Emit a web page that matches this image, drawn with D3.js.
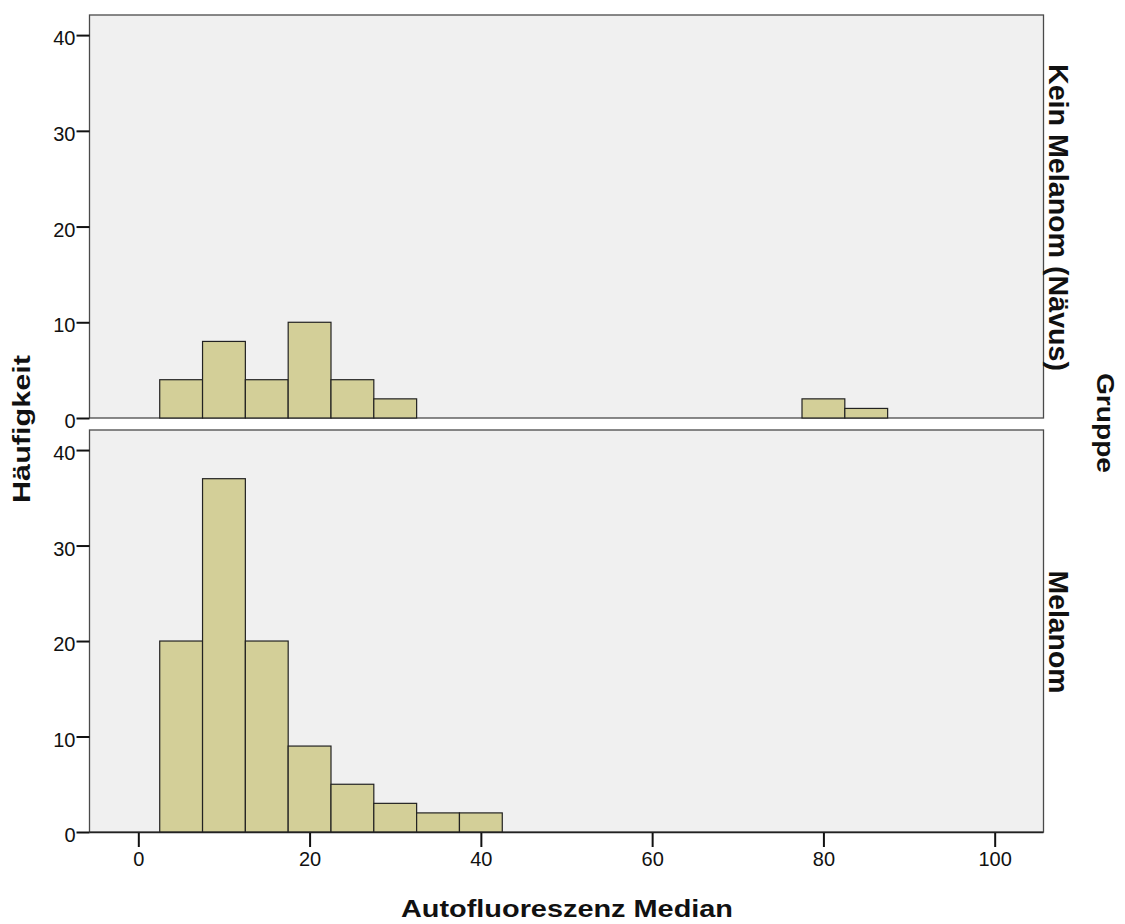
<!DOCTYPE html>
<html>
<head>
<meta charset="utf-8">
<script src="https://cdn.jsdelivr.net/npm/d3@7"></script>
<style>
  body { margin: 0; background: #fff; }
  text { font-family: "Liberation Sans", Arial, sans-serif; fill: #111; }
</style>
</head>
<body>
<div id="chart"></div>
<script>
// bin edges (width 5), counts per group
const binStarts = [2.5, 7.5, 12.5, 17.5, 22.5, 27.5, 32.5, 37.5, 77.5, 82.5];
const binWidth = 5;
const groups = ['Kein Melanom (Nävus)', 'Melanom'];
const countsNaevus = [4, 8, 4, 10, 4, 2, 0, 0, 2, 1];
const countsMelanom = [20, 37, 20, 9, 5, 3, 2, 2, 0, 0];
const xTicks = [0, 20, 40, 60, 80, 100];
const yTicks = [0, 10, 20, 30, 40];

const width = 1125;
const height = 924;

const panels = [
  { name: groups[0], counts: countsNaevus, top: 15, bottom: 418, labelLen: 307 },
  { name: groups[1], counts: countsMelanom, top: 430, bottom: 832, labelLen: 123 },
];

const svg = d3
  .select('#chart')
  .append('svg')
  .attr('width', width)
  .attr('height', height);

const xScale = d3.scaleLinear().domain([-5.7, 105.7]).range([89.5, 1043.5]);

function styleTicks(axis) {
  axis.select('.domain').remove();
  axis.selectAll('.tick line').attr('stroke', '#111').attr('stroke-width', 2);
  axis
    .selectAll('.tick text')
    .attr('font-size', 20)
    .attr('fill', '#111')
    .attr('font-family', '"Liberation Sans", Arial, sans-serif');
}

panels.forEach((p) => {
  const yScale = d3
    .scaleLinear()
    .domain([0, 40])
    .range([p.bottom, p.bottom - 40 * ((p.bottom - p.top) / 42.1)]);

  svg
    .append('rect')
    .attr('x', xScale.range()[0])
    .attr('y', p.top)
    .attr('width', xScale.range()[1] - xScale.range()[0])
    .attr('height', p.bottom - p.top)
    .attr('fill', '#f0f0f0')
    .attr('stroke', '#4a4a4a')
    .attr('stroke-width', 1.3);

  const bins = binStarts
    .map((s, i) => ({ x0: s, x1: s + binWidth, n: p.counts[i] }))
    .filter((d) => d.n > 0);

  svg
    .append('g')
    .selectAll('rect')
    .data(bins)
    .join('rect')
    .attr('x', (d) => xScale(d.x0))
    .attr('y', (d) => yScale(d.n))
    .attr('width', (d) => xScale(d.x1) - xScale(d.x0))
    .attr('height', (d) => yScale(0) - yScale(d.n))
    .attr('fill', '#d3cf98')
    .attr('stroke', '#222')
    .attr('stroke-width', 1.2);

  const yAxis = svg
    .append('g')
    .attr('transform', `translate(${xScale.range()[0]},0)`)
    .call(d3.axisLeft(yScale).tickValues(yTicks).tickSize(13).tickPadding(1));
  styleTicks(yAxis);
  yAxis.selectAll('.tick text').attr('dy', '0.48em');

  // facet label on the right
  svg
    .append('text')
    .attr('transform', `translate(1049, ${(p.top + p.bottom) / 2 + 1}) rotate(90)`)
    .attr('text-anchor', 'middle')
    .attr('font-size', 27)
    .attr('font-weight', 'bold')
    .attr('textLength', p.labelLen)
    .attr('lengthAdjust', 'spacingAndGlyphs')
    .text(p.name);
});

// bottom x axis line and ticks
svg
  .append('line')
  .attr('x1', xScale.range()[0])
  .attr('x2', xScale.range()[1])
  .attr('y1', 832.5)
  .attr('y2', 832.5)
  .attr('stroke', '#222')
  .attr('stroke-width', 1.5);

const xAxis = svg
  .append('g')
  .attr('transform', 'translate(0,833)')
  .call(d3.axisBottom(xScale).tickValues(xTicks).tickSize(14).tickPadding(5));
styleTicks(xAxis);

svg
  .append('text')
  .attr('x', 567)
  .attr('y', 917)
  .attr('text-anchor', 'middle')
  .attr('font-size', 24)
  .attr('font-weight', 'bold')
  .attr('textLength', 332)
  .attr('lengthAdjust', 'spacingAndGlyphs')
  .text('Autofluoreszenz Median');

svg
  .append('text')
  .attr('transform', 'translate(30, 429) rotate(-90)')
  .attr('text-anchor', 'middle')
  .attr('font-size', 24)
  .attr('font-weight', 'bold')
  .attr('textLength', 148)
  .attr('lengthAdjust', 'spacingAndGlyphs')
  .text('Häufigkeit');

svg
  .append('text')
  .attr('transform', 'translate(1097, 423) rotate(90)')
  .attr('text-anchor', 'middle')
  .attr('font-size', 24)
  .attr('font-weight', 'bold')
  .attr('textLength', 100)
  .attr('lengthAdjust', 'spacingAndGlyphs')
  .text('Gruppe');
</script>
</body>
</html>
